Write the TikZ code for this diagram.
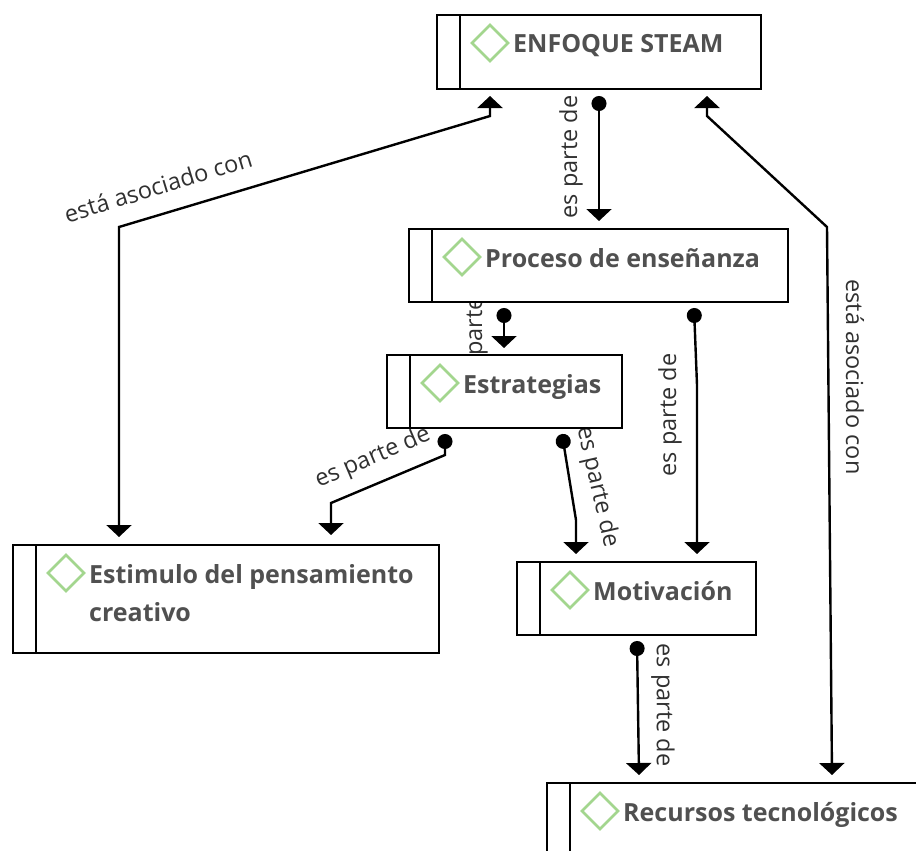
\documentclass[tikz,border=0pt]{standalone}
\usepackage{fontspec}
\usepackage{xcolor}
\usetikzlibrary{arrows.meta,shapes.geometric}
\setmainfont{Open Sans}
\definecolor{icongreen}{HTML}{A3D68E}
\definecolor{boxtext}{HTML}{505050}
\definecolor{labeltext}{HTML}{303030}
\tikzset{
concept/.style={draw=black,line width=2.4pt,fill=white,anchor=north west,inner sep=0pt,outer sep=0pt},
icon/.style={draw=icongreen,line width=2.6pt,diamond,aspect=1,minimum size=37pt,inner sep=0pt},
boxlabel/.style={text=boxtext,anchor=north west,inner sep=0pt,align=left,font=\bfseries\fontsize{25}{38}\selectfont},
linklabel/.style={text=labeltext,inner sep=0pt,font=\fontsize{23.5}{26}\selectfont},
link/.style={line width=2.4pt,draw=black,{Circle[length=15pt,width=15pt]}-{Triangle[length=12pt,width=25pt]}},
assoc/.style={line width=2.4pt,draw=black,{Triangle[length=12pt,width=25pt]}-{Triangle[length=12pt,width=25pt]}},
}
\begin{document}
\begin{tikzpicture}[x=1pt,y=-1pt]
\clip (0,0) rectangle (916,851);

% labels go first, the boxes cover them
\node[linklabel,rotate=17] (lab1) at (158,186) {está asociado con};
\node[linklabel,rotate=90] (lab2) at (571,157) {es parte de};
\node[linklabel,rotate=-90] (lab3) at (855,377) {está asociado con};
\node[linklabel,rotate=90] (lab4) at (476,325) {es parte de};
\node[linklabel,rotate=90] (lab5) at (670,415) {es parte de};
\node[linklabel,rotate=23] (lab6) at (373,458) {es parte de};
\node[linklabel,rotate=-77] (lab7) at (597,487) {es parte de};
\node[linklabel,rotate=-90] (lab8) at (663,705) {es parte de};

\foreach \name/\x/\y/\w/\h/\txt in {
steam/437/15/324/74/{ENFOQUE STEAM},
proceso/409/229/379/73/{Proceso de enseñanza},
estrategias/387/355/235/73/{Estrategias},
estimulo/13/545/426/108/{Estimulo del pensamiento\\creativo},
motivacion/517/562/239/73/{Motivación},
recursos/547/783/400/100/{Recursos tecnológicos}} {
\node[concept,minimum width=\w,minimum height=\h] (\name) at (\x,\y) {};
\draw[line width=2.4pt] (\x+23,\y) -- (\x+23,\y+\h);
\node[icon] (\name icon) at (\x+53,\y+28) {};
\node[boxlabel] (\name text) at (\x+76,\y+19) {\txt};
}

\coordinate (a1) at (599,96);
\coordinate (a2) at (599,221);
\draw[link] (a1)--(a2);

\coordinate (b1) at (504,308);
\coordinate (b2) at (504,348);
\draw[link] (b1)--(b2);

\coordinate (c1) at (694,308);
\coordinate (c2) at (697,385);
\coordinate (c3) at (697,554);
\draw[link] (c1)--(c2)--(c3);

\coordinate (d1) at (445,434);
\coordinate (d2) at (445,455);
\coordinate (d3) at (331,503);
\coordinate (d4) at (331,535);
\draw[link] (d1)--(d2)--(d3)--(d4);

\coordinate (e1) at (562,434);
\coordinate (e2) at (576,520);
\coordinate (e3) at (576,554);
\draw[link] (e1)--(e2)--(e3);

\coordinate (f1) at (637,641);
\coordinate (f2) at (639,775);
\draw[link] (f1)--(f2);

\coordinate (g1) at (490,96);
\coordinate (g2) at (490,116);
\coordinate (g3) at (119,227);
\coordinate (g4) at (119,537);
\draw[assoc] (g1)--(g2)--(g3)--(g4);

\coordinate (h1) at (707,96);
\coordinate (h2) at (707,116);
\coordinate (h3) at (827,227);
\coordinate (h4) at (832,775);
\draw[assoc] (h1)--(h2)--(h3)--(h4);
\end{tikzpicture}
\end{document}
